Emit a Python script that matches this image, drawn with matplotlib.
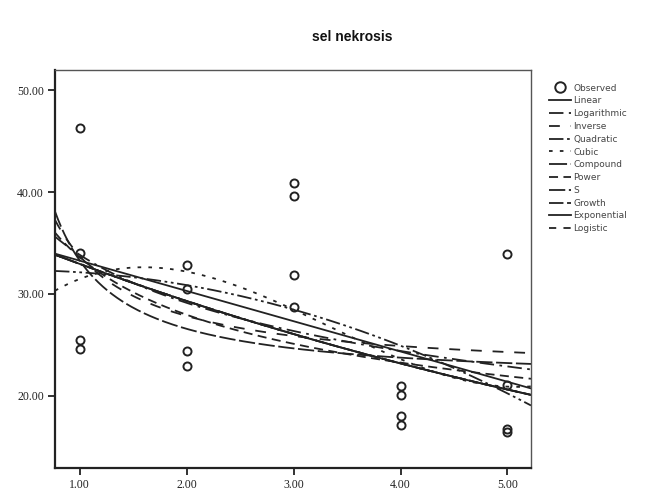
import numpy as np
import matplotlib
matplotlib.use("Agg")
import matplotlib.pyplot as plt

# observed values of sel nekrosis per group
group = [1, 1, 1, 1, 2, 2, 2, 2, 3, 3, 3, 3, 4, 4, 4, 4, 5, 5, 5, 5]
nekrosis = [46.3, 34.0, 25.5, 24.6,
            32.8, 30.5, 24.4, 22.9,
            40.9, 39.6, 31.9, 28.7,
            21.0, 20.1, 18.0, 17.1,
            33.9, 21.1, 16.7, 16.4]

x_ticks = [1, 2, 3, 4, 5]
y_ticks = [20, 30, 40, 50]

x = np.array(group, dtype=float)
y = np.array(nekrosis, dtype=float)
xs = np.linspace(0.77, 5.22, 300)


def lin(u, v):
    return np.polyfit(u, v, 1)


# curve estimation models
curves = {}
b1, b0 = lin(x, y)
curves['Linear'] = b0 + b1 * xs
b1, b0 = lin(np.log(x), y)
curves['Logarithmic'] = b0 + b1 * np.log(xs)
b1, b0 = lin(1 / x, y)
curves['Inverse'] = b0 + b1 / xs
curves['Quadratic'] = np.polyval(np.polyfit(x, y, 2), xs)
curves['Cubic'] = np.polyval(np.polyfit(x, y, 3), xs)
b1, b0 = lin(x, np.log(y))
curves['Compound'] = np.exp(b0 + b1 * xs)
b1, b0 = lin(np.log(x), np.log(y))
curves['Power'] = np.exp(b0 + b1 * np.log(xs))
b1, b0 = lin(1 / x, np.log(y))
curves['S'] = np.exp(b0 + b1 / xs)
b1, b0 = lin(x, np.log(y))
curves['Growth'] = np.exp(b0 + b1 * xs)
curves['Exponential'] = np.exp(b0 + b1 * xs)
b1, b0 = lin(x, np.log(1 / y))
curves['Logistic'] = 1 / np.exp(b0 + b1 * xs)

styles = {
    'Linear': '-',
    'Logarithmic': (0, (8, 3, 1.5, 3)),
    'Inverse': (0, (6, 6)),
    'Quadratic': (0, (8, 2, 1.5, 2, 1.5, 2)),
    'Cubic': (0, (2, 4)),
    'Compound': (0, (10, 2, 1.5, 2, 1.5, 2)),
    'Power': (0, (5, 3)),
    'S': (0, (9, 2)),
    'Growth': (0, (8, 2, 3, 2, 3, 2)),
    'Exponential': '-',
    'Logistic': (0, (4, 4)),
}

fig = plt.figure(figsize=(6.65, 4.96), dpi=100)
ax = fig.add_axes([0.0827, 0.0565, 0.7158, 0.8024])

ax.plot(x, y, 'o', ms=5.8, mfc='none', mec='#222222', mew=1.4, label='Observed')
for name, vals in curves.items():
    ax.plot(xs, vals, color='#222222', lw=1.3, linestyle=styles[name], label=name)

ax.set_xlim(0.77, 5.22)
ax.set_ylim(12.9, 52.0)
ax.set_xticks(x_ticks)
ax.set_yticks(y_ticks)
ax.set_xticklabels(['%.2f' % t for t in x_ticks], family='Liberation Serif', fontsize=8.5, color='#222222')
ax.set_yticklabels(['%.2f' % t for t in y_ticks], family='Liberation Serif', fontsize=8.5, color='#222222')
ax.tick_params(direction='out', length=5, width=1.3, color='#222222', pad=3)
for side in ['left', 'bottom']:
    ax.spines[side].set_linewidth(1.6)
    ax.spines[side].set_color('#222222')
for side in ['top', 'right']:
    ax.spines[side].set_linewidth(1.0)
    ax.spines[side].set_color('#555555')

fig.text(0.53, 0.925, 'sel nekrosis', ha='center', va='center', fontsize=10,
         fontweight='bold', family='Liberation Sans', color='#111111')

leg = ax.legend(loc='upper left', bbox_to_anchor=(1.03, 0.975), frameon=False,
                prop={'family': 'Liberation Sans Narrow', 'size': 6.5},
                handlelength=2.4, handletextpad=0.3, labelspacing=0.42,
                borderaxespad=0, markerscale=1.3)
for t in leg.get_texts():
    t.set_color('#444444')

fig.savefig('out.png', dpi=100)
